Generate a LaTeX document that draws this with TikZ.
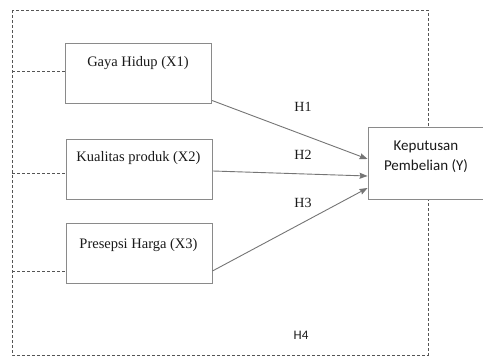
\documentclass[tikz,border=0pt]{standalone}
\usepackage{fontspec}
\setmainfont{Liberation Serif}
\newfontfamily\tms{Liberation Serif}
\newfontfamily\carl{Carlito}
\usetikzlibrary{calc,arrows.meta}
\definecolor{edge}{HTML}{8A8A8A}
\definecolor{dashc}{HTML}{555555}
\definecolor{txt}{HTML}{1A1A1A}
\begin{document}
\begin{tikzpicture}[x=1pt,y=-1pt,
  varbox/.style={draw=edge,line width=0.9pt,fill=white,minimum width=146pt,minimum height=60pt,inner sep=0pt},
  ybox/.style={draw=edge,line width=0.9pt,fill=white,minimum width=116pt,minimum height=72pt,inner sep=0pt},
  serif/.style={font=\tms\fontsize{14.5}{17}\selectfont,text=txt,inner sep=0pt},
  sans/.style={font=\carl\fontsize{15}{20}\selectfont,text=txt,inner sep=0pt,align=center},
  hlab/.style={font=\tms\fontsize{14}{16}\selectfont,text=txt,inner sep=0pt},
  outer/.style={draw=dashc,line width=0.8pt,dash pattern=on 3pt off 2pt},
  conn/.style={draw=edge!85!black,line width=0.9pt,-{Stealth[length=8pt,width=6pt,inset=1pt]}}]
\useasboundingbox (0,0) rectangle (483,356);
\clip (0,0) rectangle (483,356);
\fill[white] (0,0) rectangle (483,356);
% outer dashed frame
\draw[outer] (12,10) rectangle (428,355);
% boxes
\node[varbox] (x1) at (138.5,73) {};
\node[varbox] (x2) at (139.5,169.5) {};
\node[varbox] (x3) at (139,253.5) {};
\node[ybox] (y) at (426,163) {};
% texts
\node[serif] (t1) at (138,63) {Gaya Hidup (X1)};
\node[serif] (t2) at (138.5,158) {Kualitas produk (X2)};
\node[serif] (t3) at (138.5,245) {Presepsi Harga (X3)};
\node[sans] (ty) at (426,157) {Keputusan\\Pembelian (Y)};
% dashed stubs
\coordinate (l1) at (12,71);
\coordinate (l2) at (12,173);
\coordinate (l3) at (12,271);
\draw[outer] (l1) -- (x1.west |- l1);
\draw[outer] (l2) -- (x2.west |- l2);
\draw[outer] (l3) -- (x3.west |- l3);
% arrows
\draw[conn] ($(x1.south east)+(0,-3)$) -- ($(y.west)+(0,-4)$);
\draw[conn] ($(x2.east)+(0,1.5)$) -- ($(y.west)+(0,13)$);
\draw[conn] ($(x3.east)+(0,17.5)$) -- ($(y.west)+(0,25)$);
% labels
\node[hlab] (h1) at (303,107) {H1};
\node[hlab] (h2) at (303,155) {H2};
\node[hlab] (h3) at (303,203) {H3};
\node[font=\carl\fontsize{13}{15}\selectfont,text=txt,inner sep=0pt] (h4) at (301,335) {H4};
\end{tikzpicture}
\end{document}
